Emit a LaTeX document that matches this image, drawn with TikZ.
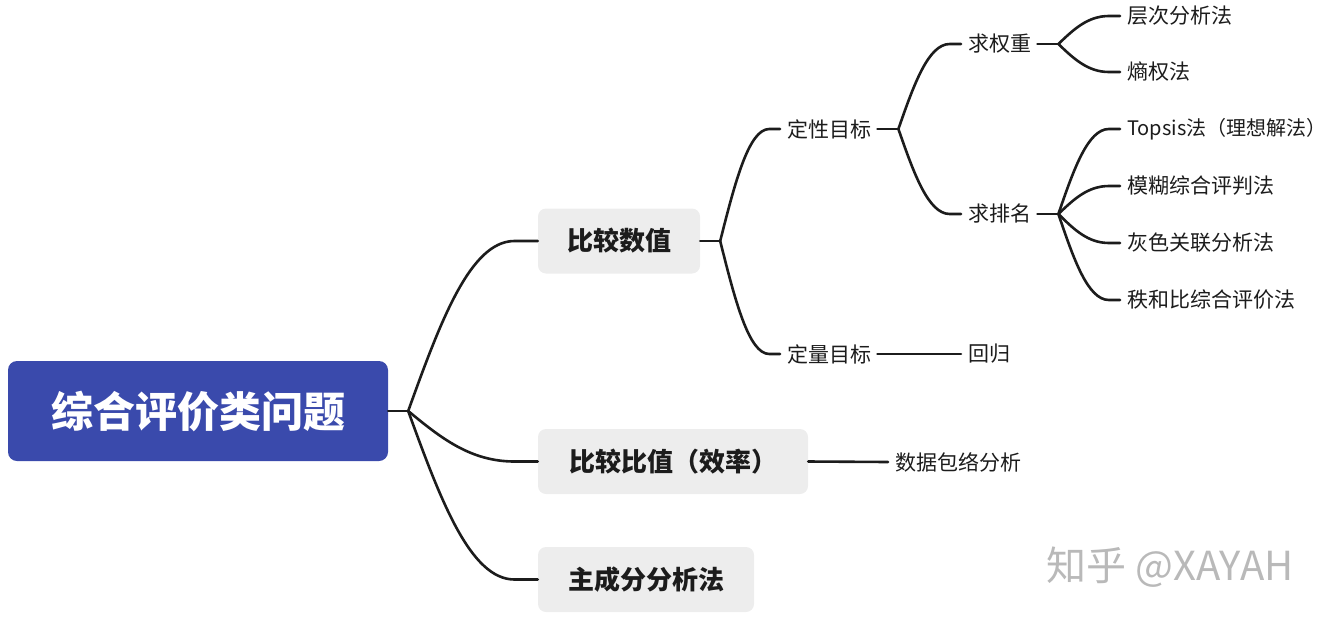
\documentclass[tikz,border=0pt]{standalone}
\usepackage{fontspec}
\setmainfont{Noto Sans CJK SC}
\usetikzlibrary{calc}
\definecolor{rootblue}{RGB}{58,74,172}
\definecolor{boxgray}{RGB}{237,237,237}
\definecolor{linec}{RGB}{28,28,28}
\definecolor{wmgray}{RGB}{185,185,185}
\newcommand\mmlink[2]{\draw[conn] let \p1=(#1), \p2=(#2) in (\p1) .. controls ({\x1+0.25*(\x2-\x1)},{\y1+0.53*(\y2-\y1)}) and ({\x1+0.48*(\x2-\x1)},\y2) .. ({\x1+0.82*(\x2-\x1)},\y2) -- (\p2);}
\begin{document}
\begin{tikzpicture}[x=1pt,y=-1pt,
  conn/.style={draw=linec,line width=2.6pt,line cap=round},
  rootbox/.style={fill=rootblue,rounded corners=9pt,minimum width=380pt,minimum height=100pt,text=white,font=\fontsize{42}{48}\selectfont\bfseries,inner sep=0pt},
  lvbox/.style={fill=boxgray,rounded corners=8pt,minimum height=65pt,text=linec,font=\fontsize{26}{30}\selectfont\bfseries,inner sep=0pt},
  leaf/.style={anchor=west,inner sep=0pt,text=linec,font=\fontsize{21}{25}\selectfont},
  wm/.style={anchor=west,inner sep=0pt,text=wmgray,font=\fontsize{40}{44}\selectfont}]
\useasboundingbox (0,0) rectangle (1328,622);
% main nodes
\node[rootbox] (root) at (198,411) {综合评价类问题};
\node[lvbox,minimum width=162pt] (n1) at (619,241) {比较数值};
\node[lvbox,minimum width=270pt] (n2) at (673,461.5) {比较比值（效率）};
\node[lvbox,minimum width=216pt] (n3) at (646,579.5) {主成分分析法};
% second level and leaves
\node[leaf] (dx) at (787,129) {定性目标};
\node[leaf] (dl) at (787,354) {定量目标};
\node[leaf] (qq) at (968,44) {求权重};
\node[leaf] (qp) at (968,214) {求排名};
\node[leaf] (l1) at (1127,16) {层次分析法};
\node[leaf] (l2) at (1127,72) {熵权法};
\node[leaf,font=\fontsize{20}{24}\selectfont] (l3) at (1127,129) {Topsis法（理想解法）};
\node[leaf] (l4) at (1127,186) {模糊综合评判法};
\node[leaf] (l5) at (1127,243) {灰色关联分析法};
\node[leaf] (l6) at (1127,300) {秩和比综合评价法};
\node[leaf] (hg) at (968,354) {回归};
\node[leaf] (sj) at (895,462) {数据包络分析};
% watermark
\node[wm] (wmk) at (1046,567) {知乎 @XAYAH};
% branch points
\coordinate (b0) at ([xshift=20pt]root.east);
\coordinate (b1) at ([xshift=20pt]n1.east);
\coordinate (b2) at ([xshift=27pt]dx.east);
\coordinate (b3) at ([xshift=27pt]qq.east);
\coordinate (b4) at ([xshift=27pt]qp.east);
% stubs
\draw[conn] (root.east) -- (b0);
\draw[conn] (n1.east) -- (b1);
\draw[conn] ([xshift=6pt]dx.east) -- (b2);
\draw[conn] ([xshift=6pt]qq.east) -- (b3);
\draw[conn] ([xshift=6pt]qp.east) -- (b4);
% curves
\mmlink{b0}{n1.west}
\mmlink{b0}{n2.west}
\mmlink{b0}{n3.west}
\mmlink{b1}{[xshift=-7pt]dx.west}
\mmlink{b1}{[xshift=-7pt]dl.west}
\mmlink{b2}{[xshift=-7pt]qq.west}
\mmlink{b2}{[xshift=-7pt]qp.west}
\mmlink{b3}{[xshift=-7pt]l1.west}
\mmlink{b3}{[xshift=-7pt]l2.west}
\mmlink{b4}{[xshift=-7pt]l3.west}
\mmlink{b4}{[xshift=-7pt]l4.west}
\mmlink{b4}{[xshift=-7pt]l5.west}
\mmlink{b4}{[xshift=-7pt]l6.west}
% straight links
\draw[conn] ([xshift=6pt]dl.east) -- ([xshift=-7pt]hg.west);
\draw[conn] (n2.east) -- ([xshift=-7pt]sj.west);
\end{tikzpicture}
\end{document}
